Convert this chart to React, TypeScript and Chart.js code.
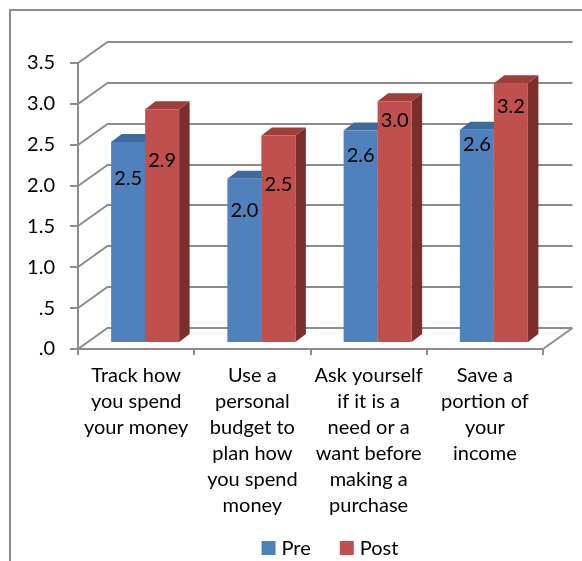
import { useEffect, useRef } from 'react';
import { Chart, registerables } from 'chart.js';

Chart.register(...registerables);

// ---- data ----
const categories: string[][] = [
  ['Track how', 'you spend', 'your money'],
  ['Use a', 'personal', 'budget to', 'plan how', 'you spend', 'money'],
  ['Ask yourself', 'if it is a', 'need or a', 'want before', 'making a', 'purchase'],
  ['Save a', 'portion of', 'your', 'income'],
];
const seriesNames = ['Pre', 'Post'];
const preValues = [2.46, 2.01, 2.6, 2.61];
const postValues = [2.86, 2.54, 2.96, 3.18];
const yTicks = [0, 0.5, 1, 1.5, 2, 2.5, 3, 3.5];
const yTickLabels = ['.0', '.5', '1.0', '1.5', '2.0', '2.5', '3.0', '3.5'];

// ---- styles ----
const FONT = 'Lato, "Open Sans", sans-serif';
const GRID = '#8c8c8c';
const frontColors = ['#4F81BD', '#C0504D'];
const topColors = ['#3F6A9C', '#9E3F3C'];
const sideColors = ['#385D8A', '#7B2E2C'];
const WALL_DX = 29.5;
const WALL_DY = -21;
const BAR_SHIFT_X = 9;
const BAR_SHIFT_Y = -6;
const BAR_DX = 10.5;
const BAR_DY = -8;
const labelOffsets = [
  [37, 32, 25, 15],
  [51, 49, 19, 23],
];
const LEGEND_CX = 330;
const LEGEND_CY = 548;

const threeD = {
  id: 'threeD',
  beforeDraw(chart: any) {
    const ctx = chart.ctx;
    ctx.save();
    ctx.strokeStyle = GRID;
    ctx.lineWidth = 2;
    ctx.strokeRect(10, 10, 700, 700);
    ctx.restore();
  },
  beforeDatasetsDraw(chart: any) {
    const { ctx, chartArea: a } = chart;
    const ys = chart.scales.y;
    ctx.save();
    ctx.strokeStyle = GRID;
    ctx.lineWidth = 2;
    ctx.beginPath();
    for (const v of yTicks) {
      const py = Math.round(ys.getPixelForValue(v));
      ctx.moveTo(a.left, py);
      ctx.lineTo(a.left + WALL_DX, py + WALL_DY);
      ctx.lineTo(a.right + WALL_DX, py + WALL_DY);
    }
    const pb = Math.round(ys.getPixelForValue(0));
    ctx.moveTo(a.right, pb);
    ctx.lineTo(a.right + WALL_DX, pb + WALL_DY);
    ctx.stroke();
    ctx.restore();

    ctx.save();
    ctx.translate(BAR_SHIFT_X, BAR_SHIFT_Y);
    chart.data.datasets.forEach((_ds: any, di: number) => {
      const meta = chart.getDatasetMeta(di);
      meta.data.forEach((el: any) => {
        const { x, y, base, width } = el.getProps(['x', 'y', 'base', 'width'], true);
        const l = x - width / 2;
        const r = x + width / 2;
        ctx.fillStyle = sideColors[di];
        ctx.beginPath();
        ctx.moveTo(r, y);
        ctx.lineTo(r + BAR_DX, y + BAR_DY);
        ctx.lineTo(r + BAR_DX, base + BAR_DY);
        ctx.lineTo(r, base);
        ctx.closePath();
        ctx.fill();
        ctx.fillStyle = topColors[di];
        ctx.beginPath();
        ctx.moveTo(l, y);
        ctx.lineTo(r, y);
        ctx.lineTo(r + BAR_DX, y + BAR_DY);
        ctx.lineTo(l + BAR_DX, y + BAR_DY);
        ctx.closePath();
        ctx.fill();
      });
    });
  },
  afterDatasetsDraw(chart: any) {
    const ctx = chart.ctx;
    ctx.fillStyle = '#000';
    ctx.font = `20px ${FONT}`;
    ctx.textAlign = 'center';
    ctx.textBaseline = 'middle';
    chart.data.datasets.forEach((ds: any, di: number) => {
      const meta = chart.getDatasetMeta(di);
      meta.data.forEach((el: any, i: number) => {
        const { x, y } = el.getProps(['x', 'y'], true);
        ctx.fillText(Number(ds.data[i]).toFixed(1), x, y + labelOffsets[di][i]);
      });
    });
    ctx.restore();
  },
  afterDraw(chart: any) {
    const ctx = chart.ctx;
    ctx.save();
    ctx.font = `20px ${FONT}`;
    ctx.textBaseline = 'middle';
    ctx.textAlign = 'left';
    const box = 14;
    const gapText = 6;
    const gapItem = 29;
    const items = chart.data.datasets.map((ds: any) => ({
      label: ds.label,
      color: ds.backgroundColor,
      w: ctx.measureText(ds.label).width,
    }));
    let total = 0;
    items.forEach((it: any, i: number) => {
      total += box + gapText + it.w + (i < items.length - 1 ? gapItem : 0);
    });
    let x = LEGEND_CX - total / 2;
    items.forEach((it: any) => {
      ctx.fillStyle = it.color;
      ctx.fillRect(x, LEGEND_CY - box / 2, box, box);
      ctx.fillStyle = '#000';
      ctx.fillText(it.label, x + box + gapText, LEGEND_CY + 1);
      x += box + gapText + it.w + gapItem;
    });
    ctx.restore();
  },
};

export default function App() {
  const ref = useRef<HTMLCanvasElement>(null);
  useEffect(() => {
    if (!ref.current) return;
    Chart.defaults.color = '#000';
    const chart = new Chart(ref.current, {
      type: 'bar',
      data: {
        labels: categories,
        datasets: [
          { label: seriesNames[0], data: preValues, backgroundColor: frontColors[0], borderWidth: 0 },
          { label: seriesNames[1], data: postValues, backgroundColor: frontColors[1], borderWidth: 0 },
        ],
      },
      options: {
        responsive: false,
        animation: false,
        devicePixelRatio: 1,
        layout: { padding: { top: 63, right: 39, bottom: 0, left: 0 } },
        plugins: { legend: { display: false }, tooltip: { enabled: false } },
        datasets: { bar: { categoryPercentage: 0.585, barPercentage: 1 } },
        scales: {
          x: {
            grid: { drawOnChartArea: false, drawTicks: true, tickLength: 6, color: GRID, lineWidth: 2, offset: true },
            border: { color: GRID, width: 2 },
            ticks: {
              color: '#000',
              padding: 8,
              maxRotation: 0,
              autoSkip: false,
              font: { family: FONT, size: 20, lineHeight: 1.3 },
            },
            afterFit: (s: any) => {
              s.height = 212;
            },
          },
          y: {
            min: 0,
            max: 3.5,
            grid: { drawOnChartArea: false, drawTicks: true, tickLength: 8, color: GRID, lineWidth: 2 },
            border: { color: GRID, width: 2 },
            ticks: {
              stepSize: 0.5,
              color: '#000',
              padding: 15,
              font: { family: FONT, size: 20 },
              callback: (_v: any, i: number) => yTickLabels[i],
            },
            afterFit: (s: any) => {
              s.width = 78;
            },
          },
        },
      },
      plugins: [threeD],
    });
    return () => chart.destroy();
  }, []);
  return (
    <div style={{ position: 'fixed', left: 0, top: 0, width: 582, height: 561, background: '#fff' }}>
      <canvas ref={ref} width={582} height={561} style={{ display: 'block' }} />
    </div>
  );
}
